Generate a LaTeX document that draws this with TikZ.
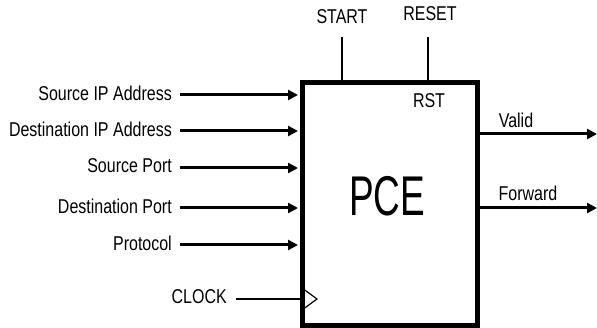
\documentclass[tikz,border=0pt]{standalone}
\usepackage{fontspec}
\setmainfont{Liberation Sans}[FakeStretch=0.8]
\newfontfamily\pcefont{Liberation Sans}[FakeStretch=0.66]
\usetikzlibrary{arrows.meta}
\begin{document}
\begin{tikzpicture}[x=1pt,y=-1pt,
  lbl/.style={inner sep=0pt,font=\fontsize{20}{22}\selectfont},
  sig/.style={line width=3pt,-{Triangle[length=10pt,width=10pt]}},
  ctl/.style={line width=2pt}]
\useasboundingbox (0,0) rectangle (597,328);
\node[draw,line width=5pt,minimum width=175pt,minimum height=243pt,anchor=north west,inner sep=0pt] (pce) at (300,80) {};
\node[inner sep=0pt,font=\pcefont\fontsize{56}{60}\selectfont] (pcelbl) at (387,196) {PCE};
\node[lbl] (rst) at (429,101) {RST};
% inputs
\foreach \n/\t/\yy in {sip/Source IP Address/95, dip/Destination IP Address/131, sp/Source Port/168, dp/Destination Port/208, pr/Protocol/245}{
  \node[lbl,anchor=east] (\n) at (172,\yy-2) {\t};
  \coordinate (\n s) at (180,\yy);
  \coordinate (\n e) at (298,\yy);
  \draw[sig] (\n s) -- (\n e);
}
% clock
\node[lbl,anchor=east] (clk) at (227,297) {CLOCK};
\coordinate (clks) at (236,299);
\coordinate (clke) at (300,299);
\draw[line width=2.5pt] (clks) -- (clke);
\coordinate (t1) at (302,288);
\coordinate (t2) at (317,299);
\coordinate (t3) at (302,310);
\draw[line width=1.2pt] (t1) -- (t2) -- (t3);
% start / reset
\node[lbl] (start) at (342,17) {START};
\node[lbl] (reset) at (430,14) {RESET};
\coordinate (st1) at (342,37);
\coordinate (st2) at (342,80);
\coordinate (rs1) at (428,37);
\coordinate (rs2) at (428,80);
\draw[ctl] (st1) -- (st2);
\draw[ctl] (rs1) -- (rs2);
% outputs
\coordinate (vs) at (475,134);
\coordinate (ve) at (597,134);
\coordinate (fs) at (475,208);
\coordinate (fe) at (597,208);
\draw[sig] (vs) -- (ve);
\draw[sig] (fs) -- (fe);
\node[lbl] (valid) at (516,120) {Valid};
\node[lbl] (fwd) at (528,193) {Forward};
\end{tikzpicture}
\end{document}
